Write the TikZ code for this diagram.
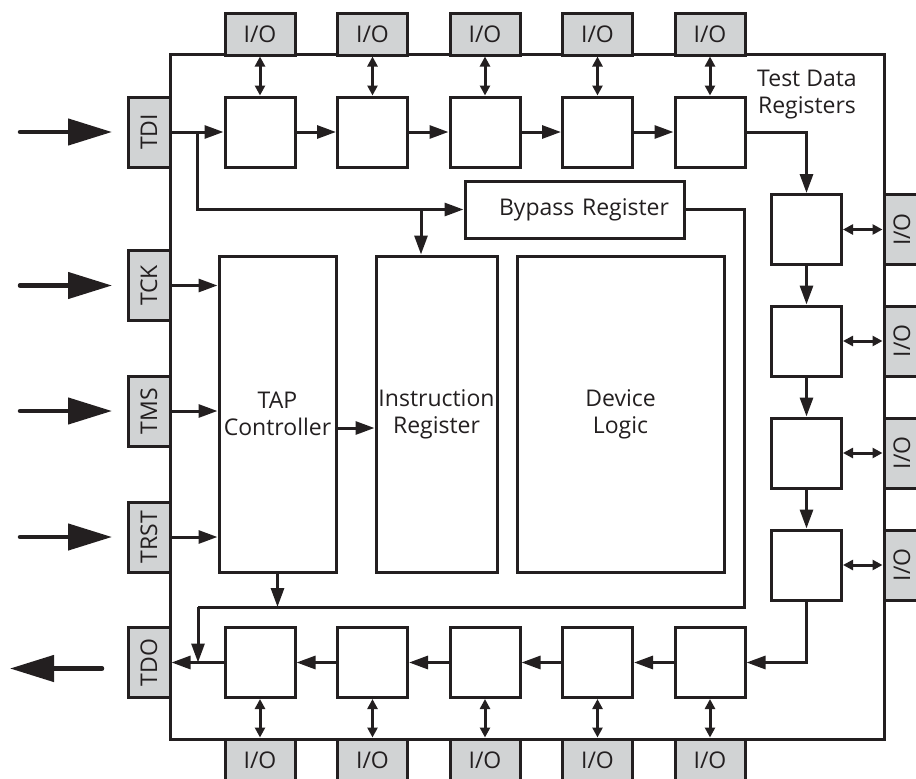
\documentclass[tikz,border=0pt]{standalone}
\usepackage{fontspec}
\setmainfont{Open Sans}
\usetikzlibrary{arrows.meta,positioning}
\definecolor{iogray}{HTML}{D1D3D4}
\definecolor{ink}{HTML}{231F20}

\begin{document}
\begin{tikzpicture}[x=1pt, y=-1pt, color=ink, line width=3pt,
  font=\fontsize{23}{27}\selectfont,
  io/.style={draw, fill=iogray, minimum width=70, minimum height=42, inner sep=0pt},
  pin/.style={io, rotate=90},
  reg/.style={draw, fill=white, minimum size=70},
  blk/.style={draw, fill=white, align=center, inner sep=0pt},
  flow/.style={-{Triangle[length=19pt,width=13pt]}},
  iolink/.style={{Triangle[length=10pt,width=10pt]}-{Triangle[length=10pt,width=10pt]}},
  bigin/.style={line width=4.5pt, line cap=round, -{Triangle[length=44pt,width=26pt]}}]
  \useasboundingbox (0,0) rectangle (916,779);

  % 芯片外框
  \node[draw, minimum width=714, minimum height=685, inner sep=0pt] (chip) at (527,396.5) {};

  % 上下两排寄存器和 I/O
  \foreach \x [count=\i] in {260,372.5,485,597.5,710} {
    \node[io] (tio\i) at (\x,34) {I/O};
    \node[reg] (t\i) at (\x,132) {};
    \node[reg] (b\i) at (\x,662.5) {};
    \node[io] (bio\i) at (\x,760) {I/O};
    \draw[iolink] (tio\i) -- (t\i);
    \draw[iolink] (b\i) -- (bio\i);
  }

  % 右侧一列
  \foreach \y [count=\i] in {229.5,341,453,565} {
    \node[reg] (r\i) at (806.5,\y) {};
    \node[pin, minimum height=36] (rio\i) at (902,\y) {I/O};
    \draw[iolink] (r\i) -- (rio\i);
  }

  % 引脚
  \node[pin] (tdi) at (149,132) {TDI};
  \node[pin] (tck) at (149,285.5) {TCK};
  \node[pin] (tms) at (149,411) {TMS};
  \node[pin] (trst) at (149,537) {TRST};
  \node[pin] (tdo) at (149,662.5) {TDO};

  % 内部模块
  \node[blk, minimum width=117, minimum height=316] (tap) at (277.5,414) {TAP\\Controller};
  \node[blk, minimum width=121, minimum height=316] (ireg) at (436.5,414) {Instruction\\Register};
  \node[blk, minimum width=207, minimum height=316] (dev) at (620.5,414) {Device\\Logic};
  \node[draw, fill=white, minimum height=57, text width=189pt, inner xsep=15pt, align=right] (byp) at (574.5,209.5) {Bypass Register};
  \node[align=center] (tdr) at (807,95) {Test Data\\Registers};

  % 扫描链
  \foreach \i/\j in {1/2,2/3,3/4,4/5} {
    \draw[flow] (t\i) -- (t\j);
    \draw[flow] (b\j) -- (b\i);
  }
  \foreach \i/\j in {1/2,2/3,3/4} \draw[flow] (r\i) -- (r\j);
  \draw[flow] (tdi) -- (t1);
  \draw[flow] (t5) -| (r1);
  \draw[flow] (r4) |- (b5);
  \draw[flow] (b1) -- (tdo);

  % 旁路和指令寄存器
  \coordinate (split) at (197,132);
  \draw[flow] (split) |- (byp);
  \coordinate (irtap) at (421,209.5);
  \draw[flow] (irtap) -- (irtap |- ireg.north);
  \coordinate (retR) at (744,607);
  \coordinate (retL) at (198,607);
  \draw (byp) -| (retR) -- (retL);
  \draw[flow] (retL) -- (retL |- tdo);
  \draw[flow] (tap) -- (tap |- retL);
  \draw[flow] ([yshift=-14pt]tap.east) -- ([yshift=-14pt]tap.east -| ireg.west);

  % TAP 输入
  \foreach \p in {tck,tms,trst} \draw[flow] (\p) -- (\p -| tap.west);

  % 外部箭头
  \foreach \p in {tdi,tck,tms,trst}
    \draw[bigin] ([xshift=-129pt]\p.center) -- ([xshift=-37pt]\p.center);
  \draw[bigin] ([xshift=-47pt,yshift=-6pt]tdo.center) -- ([xshift=-139pt,yshift=-6pt]tdo.center);
\end{tikzpicture}
\end{document}
